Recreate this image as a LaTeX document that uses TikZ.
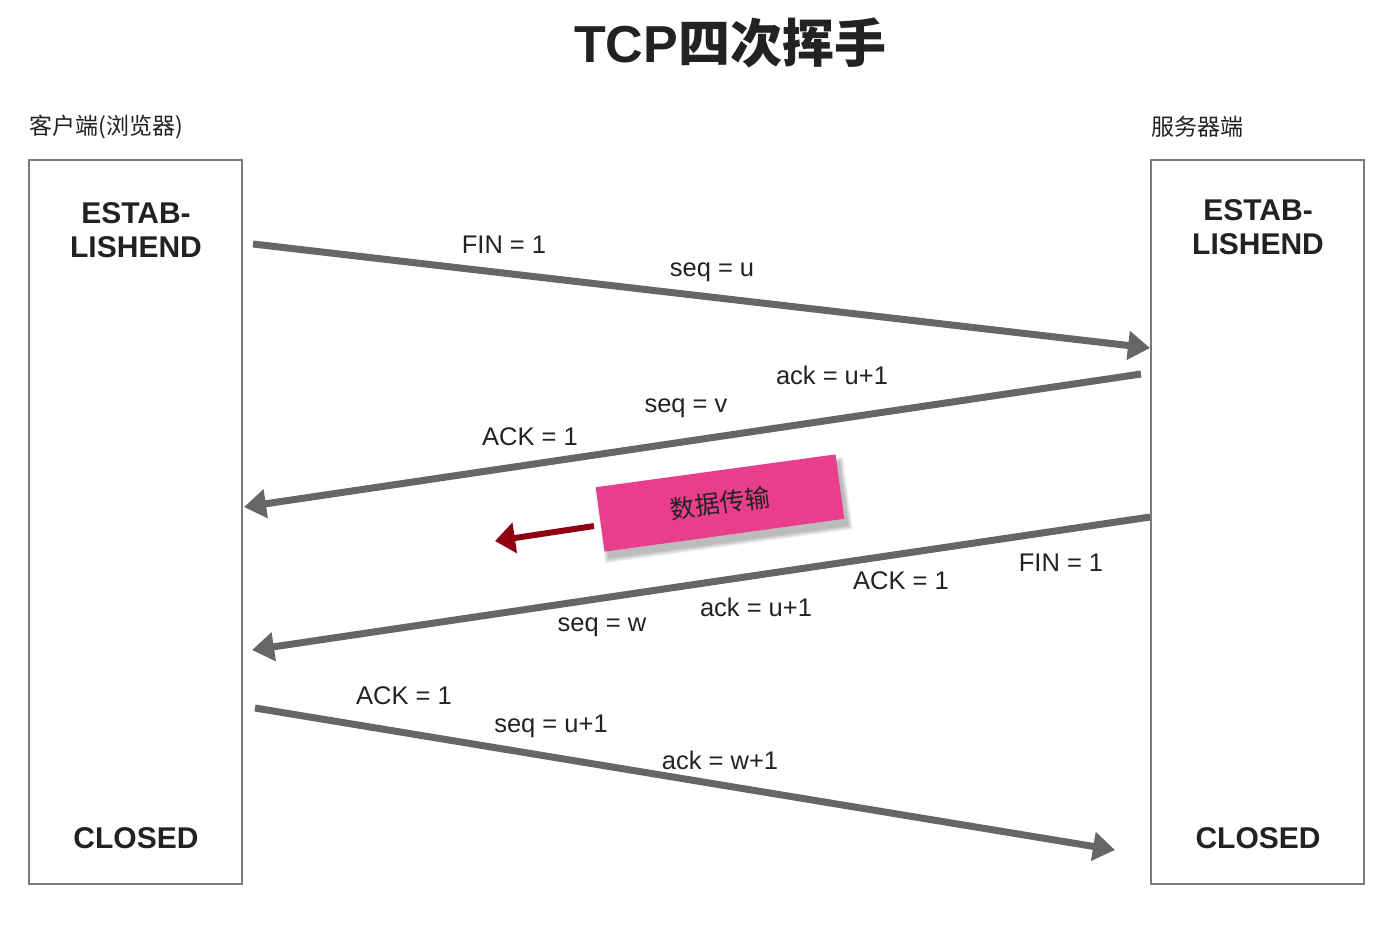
\documentclass[tikz,border=0pt]{standalone}
\usepackage{fontspec}
\setmainfont{Liberation Sans}
\setsansfont{Liberation Sans}
\newfontfamily\cjk{Noto Sans CJK SC}
\newfontfamily\cjkb{Noto Sans CJK SC Bold}
\usetikzlibrary{arrows.meta}
\definecolor{txt}{HTML}{222222}
\definecolor{arr}{HTML}{666666}
\definecolor{boxln}{HTML}{7A7A7A}
\definecolor{pinkbox}{HTML}{E83E8C}
\definecolor{darkred}{HTML}{8E0010}
\begin{document}
\begin{tikzpicture}[x=1pt,y=-1pt,
  hostbox/.style={draw=boxln, line width=1.2pt, minimum width=213pt, minimum height=724pt, inner sep=0pt},
  statetxt/.style={font=\fontsize{30}{34}\selectfont\bfseries, text=txt, align=center},
  msg/.style={font=\fontsize{25.5}{29}\selectfont, text=txt},
  hostlbl/.style={font=\cjk\fontsize{23}{27}\selectfont, text=txt, anchor=west},
  pkt/.style={draw=arr, line width=7pt, -{Triangle[length=22pt,width=28pt]}},
  shadowbox/.style={fill=black, fill opacity=0.06, rotate=7.8, inner sep=0pt},
  databox/.style={fill=pinkbox, minimum width=242pt, minimum height=65pt, rotate=7.8,
     font=\cjk\fontsize{25}{30}\selectfont, text=txt}
]
\useasboundingbox (0,0) rectangle (1388,926);
\node[font=\fontsize{52}{60}\selectfont\bfseries, text=txt] (title) at (730,43) {TCP{\cjkb 四次挥手}};
\node[hostlbl] (cl) at (26,127) {客户端(浏览器)};
\node[hostlbl] (sl) at (1148,127) {服务器端};
\node[hostbox] (client) at (135.5,522) {};
\node[hostbox] (server) at (1257.5,522) {};
\node[statetxt] (cest) at (136,230) {ESTAB-\\LISHEND};
\node[statetxt] (sest) at (1258,227) {ESTAB-\\LISHEND};
\node[statetxt] (ccl) at (136,838) {CLOSED};
\node[statetxt] (scl) at (1258,838) {CLOSED};
\coordinate (a1) at (253,244); \coordinate (b1) at (1150,348);
\coordinate (a2) at (1141,374); \coordinate (b2) at (244,507);
\coordinate (a3) at (1150,517); \coordinate (b3) at (252,650);
\coordinate (a4) at (255,708); \coordinate (b4) at (1115,850);
\draw[pkt] (a1) -- (b1);
\draw[pkt] (a2) -- (b2);
\draw[pkt] (a3) -- (b3);
\draw[pkt] (a4) -- (b4);
\node[msg] (m1) at (504,245) {FIN = 1};
\node[msg] (m2) at (712,272) {seq = u};
\node[msg] (m3) at (832,375) {ack = u+1};
\node[msg] (m4) at (686,408) {seq = v};
\node[msg] (m5) at (530,437) {ACK = 1};
\node[msg] (m6) at (1061,563) {FIN = 1};
\node[msg] (m7) at (901,581) {ACK = 1};
\node[msg] (m8) at (756,607) {ack = u+1};
\node[msg] (m9) at (602,627) {seq = w};
\node[msg] (m10) at (404,696) {ACK = 1};
\node[msg] (m11) at (551,726) {seq = u+1};
\node[msg] (m12) at (720,760) {ack = w+1};
\foreach \s in {0,2,4,6,8}
  \node[shadowbox, minimum width={242pt+\s pt}, minimum height={65pt+\s pt}] (sh\s) at (724,510) {};
\node[databox] (data) at (720,503) {数据传输};
\coordinate (dstart) at (594,526);
\coordinate (dend) at (495,541);
\draw[draw=darkred, line width=6pt, -{Triangle[length=20pt,width=30pt]}] (dstart) -- (dend);
\end{tikzpicture}
\end{document}
